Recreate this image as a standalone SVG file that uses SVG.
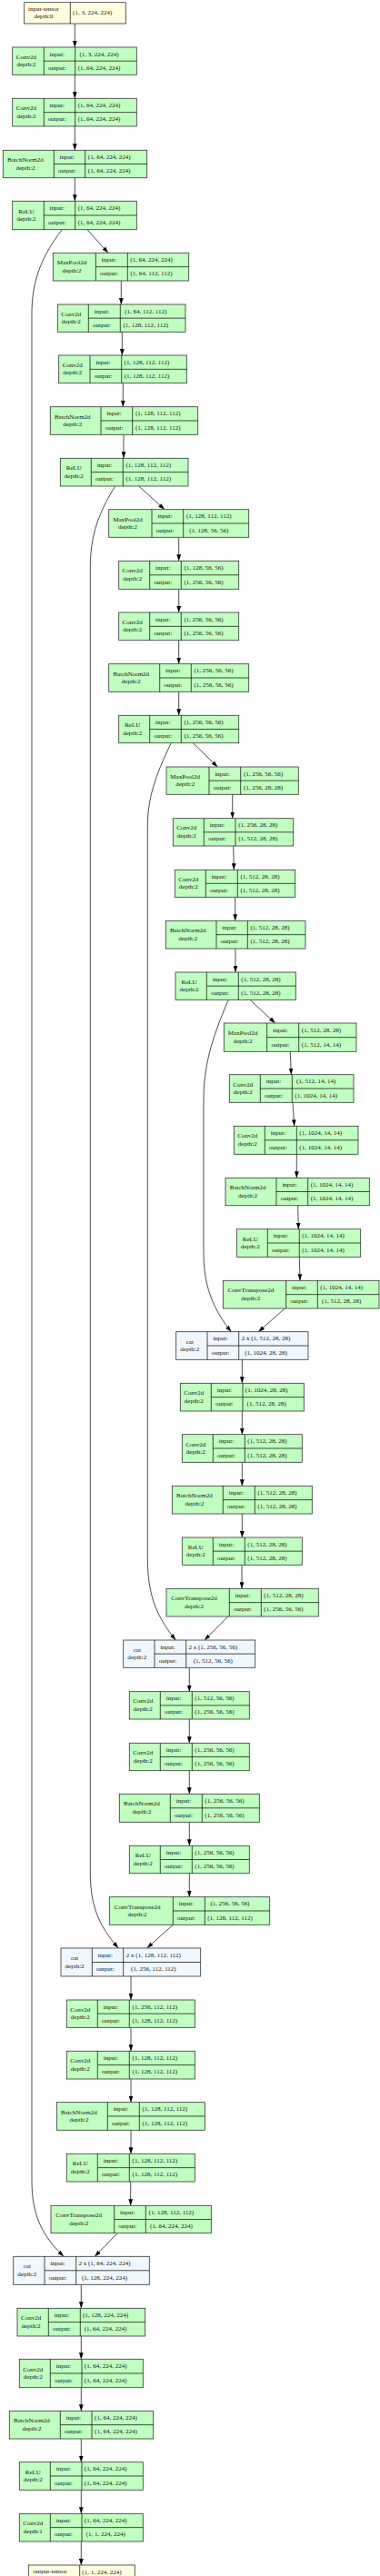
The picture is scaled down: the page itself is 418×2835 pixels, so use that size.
<svg xmlns="http://www.w3.org/2000/svg" width="418" height="2835" viewBox="0 0 418 2835">
<style>
.g{fill:#c1ffc1;stroke:#333;stroke-width:0.8}
.c{fill:#f0f8ff;stroke:#333;stroke-width:0.8}
.y{fill:#ffffe0;stroke:#333;stroke-width:0.8}
.d{fill:none;stroke:#000;stroke-width:0.7}
text{font-family:"Liberation Serif","DejaVu Serif",serif;font-size:7px;text-anchor:middle;dominant-baseline:central;fill:#111}
.e{fill:none;stroke:#000;stroke-width:0.7;marker-end:url(#a)}
</style>
<defs>
<marker id="a" markerUnits="userSpaceOnUse" markerWidth="7" markerHeight="4.8" refX="7" refY="2.4" orient="auto"><path d="M0,0L7,2.4L0,4.8z" fill="#000"/></marker>
</defs>
<rect width="418" height="2835" fill="#fff"/>
<g id="connectors">
<path class="e" d="M82.3,26V52"/>
<path class="e" d="M82.3,82.3V108.3"/>
<path class="e" d="M82.3,139V165.3"/>
<path class="e" d="M82.3,195.7V221.3"/>
<path class="e" d="M96,252.7L119,278.3"/>
<path class="e" d="M68.3,252.7C45,283 35,310 35,345L35,2400C35,2440 48,2462 70,2483.3"/>
<path class="e" d="M133.3,309V335"/>
<path class="e" d="M134.3,365.3V391"/>
<path class="e" d="M135.3,421.7V447.7"/>
<path class="e" d="M136,478.3V504.3"/>
<path class="e" d="M152.7,535L181,560.7"/>
<path class="e" d="M126.7,535C108,565 99.3,590 99.3,625L99.3,2060C99.3,2100 110,2120 130,2144"/>
<path class="e" d="M196.7,591.3V617.3"/>
<path class="e" d="M196.7,648.3V674"/>
<path class="e" d="M196.7,704.7V730.7"/>
<path class="e" d="M196.7,761.3V787.3"/>
<path class="e" d="M212.3,817.7L239.3,844"/>
<path class="e" d="M188.3,817.7C170,855 162.3,880 162.3,910L162.3,1715C162.3,1760 175,1782 193.3,1805"/>
<path class="e" d="M255.7,874.3V900.7"/>
<path class="e" d="M256.7,931L257.3,957.3"/>
<path class="e" d="M258.7,987.3V1013.3"/>
<path class="e" d="M259,1044V1070"/>
<path class="e" d="M275,1100.3L302.7,1126"/>
<path class="e" d="M251.3,1100.3C232,1145 224,1175 224,1210L224,1380C224,1420 238,1445 254.3,1465.7"/>
<path class="e" d="M319.3,1157.3L320.3,1182.7"/>
<path class="e" d="M322,1213.3L323.7,1239.3"/>
<path class="e" d="M326.3,1270.3V1296.3"/>
<path class="e" d="M327.7,1326.7L328.3,1352.7"/>
<path class="e" d="M329.3,1383.3L330,1409.3"/>
<path class="e" d="M313.3,1440L284.3,1465.7"/>
<path class="e" d="M266.3,1496.3V1522.3"/>
<path class="e" d="M266.3,1553V1578.7"/>
<path class="e" d="M266.3,1609.3V1635.3"/>
<path class="e" d="M266.3,1666V1692"/>
<path class="e" d="M266,1722.3V1748.3"/>
<path class="e" d="M250.7,1779L225,1805"/>
<path class="e" d="M208.3,1835.3V1861.7"/>
<path class="e" d="M208.3,1892V1918.3"/>
<path class="e" d="M208.3,1948.7V1974.3"/>
<path class="e" d="M208.3,2005.3V2031.3"/>
<path class="e" d="M208.3,2061.7V2087.7"/>
<path class="e" d="M190.3,2118.3L161.7,2144"/>
<path class="e" d="M144,2175V2201"/>
<path class="e" d="M144,2231.3V2257.3"/>
<path class="e" d="M144,2288V2313.7"/>
<path class="e" d="M144,2344.3V2370.3"/>
<path class="e" d="M143.7,2401V2427.3"/>
<path class="e" d="M129.3,2457.7L104.3,2483.3"/>
<path class="e" d="M89.3,2514.3V2540.3"/>
<path class="e" d="M89.3,2571V2596.3"/>
<path class="e" d="M89.3,2627.7V2653.3"/>
<path class="e" d="M89.3,2684V2709.7"/>
<path class="e" d="M89.3,2740.3V2766.3"/>
<path class="e" d="M89.3,2797V2823"/>
</g>
<g id="n1"><rect class="y" x="26.7" y="2.7" width="111.6" height="23.3"/><path class="d" d="M77.3,2.7V26"/><text x="48" y="9.9">input-tensor</text><text x="48" y="18.2">depth:0</text><text x="101.7" y="14.35">(1, 3, 224, 224)</text></g>
<g id="n2"><rect class="g" x="13.7" y="52" width="136.6" height="30.3"/><path class="d" d="M48.3,52V82.3M82.7,52V82.3M48.3,67.15H150.3"/><text x="28.9" y="62.75">Conv2d</text><text x="28.9" y="71.15">depth:2</text><text x="62.7" y="59.6">input:</text><text x="62.7" y="74.7">output:</text><text x="109.1" y="59.6">(1, 3, 224, 224)</text><text x="109.1" y="74.7">(1, 64, 224, 224)</text></g>
<g id="n3"><rect class="g" x="13.7" y="108.3" width="136.6" height="30.7"/><path class="d" d="M48.3,108.3V139M82.7,108.3V139M48.3,123.65H150.3"/><text x="28.9" y="119.25">Conv2d</text><text x="28.9" y="127.65">depth:2</text><text x="62.7" y="116">input:</text><text x="62.7" y="131.3">output:</text><text x="109.1" y="116">(1, 64, 224, 224)</text><text x="109.1" y="131.3">(1, 64, 224, 224)</text></g>
<g id="n4"><rect class="g" x="3.3" y="165.3" width="158.4" height="30.4"/><path class="d" d="M59.3,165.3V195.7M93.7,165.3V195.7M59.3,180.5H161.7"/><text x="27.9" y="176.1">BatchNorm2d</text><text x="27.9" y="184.5">depth:2</text><text x="73.7" y="172.9">input:</text><text x="73.7" y="188.1">output:</text><text x="120.2" y="172.9">(1, 64, 224, 224)</text><text x="120.2" y="188.1">(1, 64, 224, 224)</text></g>
<g id="n5"><rect class="g" x="13.7" y="221.3" width="136.6" height="31.4"/><path class="d" d="M48.3,221.3V252.7M82.7,221.3V252.7M48.3,237H150.3"/><text x="28.9" y="232.6">ReLU</text><text x="28.9" y="241">depth:2</text><text x="62.7" y="229.15">input:</text><text x="62.7" y="244.85">output:</text><text x="109.1" y="229.15">(1, 64, 224, 224)</text><text x="109.1" y="244.85">(1, 64, 224, 224)</text></g>
<g id="n6"><rect class="g" x="58.3" y="278.3" width="149.4" height="30.7"/><path class="d" d="M105.3,278.3V309M140.3,278.3V309M105.3,293.65H207.7"/><text x="79" y="289.25">MaxPool2d</text><text x="79" y="297.65">depth:2</text><text x="120" y="286">input:</text><text x="120" y="301.3">output:</text><text x="166.6" y="286">(1, 64, 224, 224)</text><text x="166.6" y="301.3">(1, 64, 112, 112)</text></g>
<g id="n7"><rect class="g" x="63.3" y="335" width="140.7" height="30.3"/><path class="d" d="M97.3,335V365.3M132.3,335V365.3M97.3,350.15H204"/><text x="78.3" y="345.75">Conv2d</text><text x="78.3" y="354.15">depth:2</text><text x="112" y="342.6">input:</text><text x="112" y="357.7">output:</text><text x="160.3" y="342.6">(1, 64, 112, 112)</text><text x="160.3" y="357.7">(1, 128, 112, 112)</text></g>
<g id="n8"><rect class="g" x="64.7" y="391" width="140.6" height="30.7"/><path class="d" d="M99,391V421.7M133.7,391V421.7M99,406.35H205.3"/><text x="79.8" y="401.95">Conv2d</text><text x="79.8" y="410.35">depth:2</text><text x="113.6" y="398.7">input:</text><text x="113.6" y="414">output:</text><text x="161.6" y="398.7">(1, 128, 112, 112)</text><text x="161.6" y="414">(1, 128, 112, 112)</text></g>
<g id="n9"><rect class="g" x="55.3" y="447.7" width="162.4" height="30.6"/><path class="d" d="M111,447.7V478.3M145.7,447.7V478.3M111,463H217.7"/><text x="79.8" y="458.6">BatchNorm2d</text><text x="79.8" y="467">depth:2</text><text x="125.6" y="455.35">input:</text><text x="125.6" y="470.65">output:</text><text x="173.8" y="455.35">(1, 128, 112, 112)</text><text x="173.8" y="470.65">(1, 128, 112, 112)</text></g>
<g id="n10"><rect class="g" x="66.3" y="504.3" width="140.7" height="30.7"/><path class="d" d="M100.3,504.3V535M135.3,504.3V535M100.3,519.65H207"/><text x="81.3" y="515.25">ReLU</text><text x="81.3" y="523.65">depth:2</text><text x="115" y="512">input:</text><text x="115" y="527.3">output:</text><text x="163.3" y="512">(1, 128, 112, 112)</text><text x="163.3" y="527.3">(1, 128, 112, 112)</text></g>
<g id="n11"><rect class="g" x="119.7" y="560.7" width="154" height="30.6"/><path class="d" d="M167,560.7V591.3M201.7,560.7V591.3M167,576H273.7"/><text x="140.5" y="571.6">MaxPool2d</text><text x="140.5" y="580">depth:2</text><text x="181.6" y="568.35">input:</text><text x="181.6" y="583.65">output:</text><text x="229.8" y="568.35">(1, 128, 112, 112)</text><text x="229.8" y="583.65">(1, 128, 56, 56)</text></g>
<g id="n12"><rect class="g" x="130.7" y="617.3" width="132" height="31"/><path class="d" d="M164.7,617.3V648.3M199.3,617.3V648.3M164.7,632.8H262.7"/><text x="145.7" y="628.4">Conv2d</text><text x="145.7" y="636.8">depth:2</text><text x="179.2" y="625.05">input:</text><text x="179.2" y="640.55">output:</text><text x="224" y="625.05">(1, 128, 56, 56)</text><text x="224" y="640.55">(1, 256, 56, 56)</text></g>
<g id="n13"><rect class="g" x="130.7" y="674" width="132" height="30.7"/><path class="d" d="M164.7,674V704.7M199.3,674V704.7M164.7,689.35H262.7"/><text x="145.7" y="684.95">Conv2d</text><text x="145.7" y="693.35">depth:2</text><text x="179.2" y="681.7">input:</text><text x="179.2" y="697">output:</text><text x="224" y="681.7">(1, 256, 56, 56)</text><text x="224" y="697">(1, 256, 56, 56)</text></g>
<g id="n14"><rect class="g" x="119.7" y="730.7" width="154" height="30.6"/><path class="d" d="M175.7,730.7V761.3M210.3,730.7V761.3M175.7,746H273.7"/><text x="144.3" y="741.6">BatchNorm2d</text><text x="144.3" y="750">depth:2</text><text x="190.2" y="738.35">input:</text><text x="190.2" y="753.65">output:</text><text x="235" y="738.35">(1, 256, 56, 56)</text><text x="235" y="753.65">(1, 256, 56, 56)</text></g>
<g id="n15"><rect class="g" x="130.7" y="787.3" width="132" height="30.4"/><path class="d" d="M164.7,787.3V817.7M199.3,787.3V817.7M164.7,802.5H262.7"/><text x="145.7" y="798.1">ReLU</text><text x="145.7" y="806.5">depth:2</text><text x="179.2" y="794.9">input:</text><text x="179.2" y="810.1">output:</text><text x="224" y="794.9">(1, 256, 56, 56)</text><text x="224" y="810.1">(1, 256, 56, 56)</text></g>
<g id="n16"><rect class="g" x="183" y="844" width="145.3" height="30.3"/><path class="d" d="M230,844V874.3M264.7,844V874.3M230,859.15H328.3"/><text x="203.7" y="854.75">MaxPool2d</text><text x="203.7" y="863.15">depth:2</text><text x="244.6" y="851.6">input:</text><text x="244.6" y="866.7">output:</text><text x="289.5" y="851.6">(1, 256, 56, 56)</text><text x="289.5" y="866.7">(1, 256, 28, 28)</text></g>
<g id="n17"><rect class="g" x="190.3" y="900.7" width="132.4" height="30.3"/><path class="d" d="M224.3,900.7V931M259,900.7V931M224.3,915.85H322.7"/><text x="205.3" y="911.45">Conv2d</text><text x="205.3" y="919.85">depth:2</text><text x="238.9" y="908.3">input:</text><text x="238.9" y="923.4">output:</text><text x="283.8" y="908.3">(1, 256, 28, 28)</text><text x="283.8" y="923.4">(1, 512, 28, 28)</text></g>
<g id="n18"><rect class="g" x="192.3" y="957.3" width="132.4" height="30"/><path class="d" d="M226.3,957.3V987.3M261.3,957.3V987.3M226.3,972.3H324.7"/><text x="207.3" y="967.9">Conv2d</text><text x="207.3" y="976.3">depth:2</text><text x="241" y="964.8">input:</text><text x="241" y="979.8">output:</text><text x="286" y="964.8">(1, 512, 28, 28)</text><text x="286" y="979.8">(1, 512, 28, 28)</text></g>
<g id="n19"><rect class="g" x="182.3" y="1013.3" width="153.7" height="30.7"/><path class="d" d="M238,1013.3V1044M272.3,1013.3V1044M238,1028.65H336"/><text x="206.8" y="1024.25">BatchNorm2d</text><text x="206.8" y="1032.65">depth:2</text><text x="252.4" y="1021">input:</text><text x="252.4" y="1036.3">output:</text><text x="297.1" y="1021">(1, 512, 28, 28)</text><text x="297.1" y="1036.3">(1, 512, 28, 28)</text></g>
<g id="n20"><rect class="g" x="193" y="1070" width="132.3" height="30.3"/><path class="d" d="M227.3,1070V1100.3M262.3,1070V1100.3M227.3,1085.15H325.3"/><text x="208.1" y="1080.75">ReLU</text><text x="208.1" y="1089.15">depth:2</text><text x="242" y="1077.6">input:</text><text x="242" y="1092.7">output:</text><text x="286.9" y="1077.6">(1, 512, 28, 28)</text><text x="286.9" y="1092.7">(1, 512, 28, 28)</text></g>
<g id="n21"><rect class="g" x="246.3" y="1126" width="145.7" height="31.3"/><path class="d" d="M293.7,1126V1157.3M328.7,1126V1157.3M293.7,1141.65H392"/><text x="267.2" y="1137.25">MaxPool2d</text><text x="267.2" y="1145.65">depth:2</text><text x="308.4" y="1133.8">input:</text><text x="308.4" y="1149.5">output:</text><text x="353.4" y="1133.8">(1, 512, 28, 28)</text><text x="353.4" y="1149.5">(1, 512, 14, 14)</text></g>
<g id="n22"><rect class="g" x="252.3" y="1182.7" width="136.7" height="30.6"/><path class="d" d="M286.3,1182.7V1213.3M321.3,1182.7V1213.3M286.3,1198H389"/><text x="267.3" y="1193.6">Conv2d</text><text x="267.3" y="1202">depth:2</text><text x="301" y="1190.35">input:</text><text x="301" y="1205.65">output:</text><text x="347.7" y="1190.35">(1, 512, 14, 14)</text><text x="347.7" y="1205.65">(1, 1024, 14, 14)</text></g>
<g id="n23"><rect class="g" x="257.3" y="1239.3" width="136.7" height="31"/><path class="d" d="M291.3,1239.3V1270.3M326.3,1239.3V1270.3M291.3,1254.8H394"/><text x="272.3" y="1250.4">Conv2d</text><text x="272.3" y="1258.8">depth:2</text><text x="306" y="1247.05">input:</text><text x="306" y="1262.55">output:</text><text x="352.7" y="1247.05">(1, 1024, 14, 14)</text><text x="352.7" y="1262.55">(1, 1024, 14, 14)</text></g>
<g id="n24"><rect class="g" x="248" y="1296.3" width="158.3" height="30.4"/><path class="d" d="M304,1296.3V1326.7M338.7,1296.3V1326.7M304,1311.5H406.3"/><text x="272.6" y="1307.1">BatchNorm2d</text><text x="272.6" y="1315.5">depth:2</text><text x="318.6" y="1303.9">input:</text><text x="318.6" y="1319.1">output:</text><text x="365.1" y="1303.9">(1, 1024, 14, 14)</text><text x="365.1" y="1319.1">(1, 1024, 14, 14)</text></g>
<g id="n25"><rect class="g" x="260.3" y="1352.7" width="136.4" height="30.6"/><path class="d" d="M294.3,1352.7V1383.3M329.3,1352.7V1383.3M294.3,1368H396.7"/><text x="275.3" y="1363.6">ReLU</text><text x="275.3" y="1372">depth:2</text><text x="309" y="1360.35">input:</text><text x="309" y="1375.65">output:</text><text x="355.6" y="1360.35">(1, 1024, 14, 14)</text><text x="355.6" y="1375.65">(1, 1024, 14, 14)</text></g>
<g id="n26"><rect class="g" x="245.3" y="1409.3" width="171.7" height="30.7"/><path class="d" d="M314.7,1409.3V1440M349.3,1409.3V1440M314.7,1424.65H417"/><text x="275.8" y="1420.25">ConvTranspose2d</text><text x="275.8" y="1428.65">depth:2</text><text x="329.2" y="1417">input:</text><text x="329.2" y="1432.3">output:</text><text x="375.7" y="1417">(1, 1024, 14, 14)</text><text x="375.7" y="1432.3">(1, 512, 28, 28)</text></g>
<g id="n27"><rect class="c" x="193.7" y="1465.7" width="145.3" height="30.6"/><path class="d" d="M228,1465.7V1496.3M262.7,1465.7V1496.3M228,1481H339"/><text x="208.8" y="1476.6">cat</text><text x="208.8" y="1485">depth:2</text><text x="242.6" y="1473.35">input:</text><text x="242.6" y="1488.65">output:</text><text x="292.5" y="1473.35">2 x (1, 512, 28, 28)</text><text x="292.5" y="1488.65">(1, 1024, 28, 28)</text></g>
<g id="n28"><rect class="g" x="198.3" y="1522.3" width="136" height="30.7"/><path class="d" d="M232.3,1522.3V1553M267,1522.3V1553M232.3,1537.65H334.3"/><text x="213.3" y="1533.25">Conv2d</text><text x="213.3" y="1541.65">depth:2</text><text x="246.9" y="1530">input:</text><text x="246.9" y="1545.3">output:</text><text x="293.2" y="1530">(1, 1024, 28, 28)</text><text x="293.2" y="1545.3">(1, 512, 28, 28)</text></g>
<g id="n29"><rect class="g" x="200.3" y="1578.7" width="132" height="30.6"/><path class="d" d="M234.3,1578.7V1609.3M269.3,1578.7V1609.3M234.3,1594H332.3"/><text x="215.3" y="1589.6">Conv2d</text><text x="215.3" y="1598">depth:2</text><text x="249" y="1586.35">input:</text><text x="249" y="1601.65">output:</text><text x="293.9" y="1586.35">(1, 512, 28, 28)</text><text x="293.9" y="1601.65">(1, 512, 28, 28)</text></g>
<g id="n30"><rect class="g" x="189.3" y="1635.3" width="154" height="30.7"/><path class="d" d="M245.3,1635.3V1666M280.3,1635.3V1666M245.3,1650.65H343.3"/><text x="213.9" y="1646.25">BatchNorm2d</text><text x="213.9" y="1654.65">depth:2</text><text x="260" y="1643">input:</text><text x="260" y="1658.3">output:</text><text x="304.9" y="1643">(1, 512, 28, 28)</text><text x="304.9" y="1658.3">(1, 512, 28, 28)</text></g>
<g id="n31"><rect class="g" x="200.3" y="1692" width="132" height="30.3"/><path class="d" d="M234.3,1692V1722.3M269.3,1692V1722.3M234.3,1707.15H332.3"/><text x="215.3" y="1702.75">ReLU</text><text x="215.3" y="1711.15">depth:2</text><text x="249" y="1699.6">input:</text><text x="249" y="1714.7">output:</text><text x="293.9" y="1699.6">(1, 512, 28, 28)</text><text x="293.9" y="1714.7">(1, 512, 28, 28)</text></g>
<g id="n32"><rect class="g" x="183" y="1748.3" width="167.3" height="30.7"/><path class="d" d="M252.3,1748.3V1779M287.3,1748.3V1779M252.3,1763.65H350.3"/><text x="213.5" y="1759.25">ConvTranspose2d</text><text x="213.5" y="1767.65">depth:2</text><text x="267" y="1756">input:</text><text x="267" y="1771.3">output:</text><text x="311.9" y="1756">(1, 512, 28, 28)</text><text x="311.9" y="1771.3">(1, 256, 56, 56)</text></g>
<g id="n33"><rect class="c" x="135.7" y="1805" width="145" height="30.3"/><path class="d" d="M170,1805V1835.3M204.7,1805V1835.3M170,1820.15H280.7"/><text x="150.8" y="1815.75">cat</text><text x="150.8" y="1824.15">depth:2</text><text x="184.6" y="1812.6">input:</text><text x="184.6" y="1827.7">output:</text><text x="234.3" y="1812.6">2 x (1, 256, 56, 56)</text><text x="234.3" y="1827.7">(1, 512, 56, 56)</text></g>
<g id="n34"><rect class="g" x="142.3" y="1861.7" width="132" height="30.3"/><path class="d" d="M176.3,1861.7V1892M211.3,1861.7V1892M176.3,1876.85H274.3"/><text x="157.3" y="1872.45">Conv2d</text><text x="157.3" y="1880.85">depth:2</text><text x="191" y="1869.3">input:</text><text x="191" y="1884.4">output:</text><text x="235.9" y="1869.3">(1, 512, 56, 56)</text><text x="235.9" y="1884.4">(1, 256, 56, 56)</text></g>
<g id="n35"><rect class="g" x="142.3" y="1918.3" width="132" height="30.4"/><path class="d" d="M176.3,1918.3V1948.7M211.3,1918.3V1948.7M176.3,1933.5H274.3"/><text x="157.3" y="1929.1">Conv2d</text><text x="157.3" y="1937.5">depth:2</text><text x="191" y="1925.9">input:</text><text x="191" y="1941.1">output:</text><text x="235.9" y="1925.9">(1, 256, 56, 56)</text><text x="235.9" y="1941.1">(1, 256, 56, 56)</text></g>
<g id="n36"><rect class="g" x="131.3" y="1974.3" width="154" height="31"/><path class="d" d="M187.3,1974.3V2005.3M222.3,1974.3V2005.3M187.3,1989.8H285.3"/><text x="155.9" y="1985.4">BatchNorm2d</text><text x="155.9" y="1993.8">depth:2</text><text x="202" y="1982.05">input:</text><text x="202" y="1997.55">output:</text><text x="246.9" y="1982.05">(1, 256, 56, 56)</text><text x="246.9" y="1997.55">(1, 256, 56, 56)</text></g>
<g id="n37"><rect class="g" x="142.3" y="2031.3" width="132" height="30.4"/><path class="d" d="M176.3,2031.3V2061.7M211.3,2031.3V2061.7M176.3,2046.5H274.3"/><text x="157.3" y="2042.1">ReLU</text><text x="157.3" y="2050.5">depth:2</text><text x="191" y="2038.9">input:</text><text x="191" y="2054.1">output:</text><text x="235.9" y="2038.9">(1, 256, 56, 56)</text><text x="235.9" y="2054.1">(1, 256, 56, 56)</text></g>
<g id="n38"><rect class="g" x="120.3" y="2087.7" width="176.4" height="30.6"/><path class="d" d="M190.3,2087.7V2118.3M225.3,2087.7V2118.3M190.3,2103H296.7"/><text x="151.1" y="2098.6">ConvTranspose2d</text><text x="151.1" y="2107">depth:2</text><text x="205" y="2095.35">input:</text><text x="205" y="2110.65">output:</text><text x="253.1" y="2095.35">(1, 256, 56, 56)</text><text x="253.1" y="2110.65">(1, 128, 112, 112)</text></g>
<g id="n39"><rect class="c" x="67" y="2144" width="153.7" height="31"/><path class="d" d="M101.3,2144V2175M135.7,2144V2175M101.3,2159.5H220.7"/><text x="82.1" y="2155.1">cat</text><text x="82.1" y="2163.5">depth:2</text><text x="115.7" y="2151.75">input:</text><text x="115.7" y="2167.25">output:</text><text x="168.9" y="2151.75">2 x (1, 128, 112, 112)</text><text x="168.9" y="2167.25">(1, 256, 112, 112)</text></g>
<g id="n40"><rect class="g" x="73.3" y="2201" width="141" height="30.3"/><path class="d" d="M107.3,2201V2231.3M142.3,2201V2231.3M107.3,2216.15H214.3"/><text x="88.3" y="2211.75">Conv2d</text><text x="88.3" y="2220.15">depth:2</text><text x="122" y="2208.6">input:</text><text x="122" y="2223.7">output:</text><text x="170.4" y="2208.6">(1, 256, 112, 112)</text><text x="170.4" y="2223.7">(1, 128, 112, 112)</text></g>
<g id="n41"><rect class="g" x="73.3" y="2257.3" width="141" height="30.7"/><path class="d" d="M107.3,2257.3V2288M142.3,2257.3V2288M107.3,2272.65H214.3"/><text x="88.3" y="2268.25">Conv2d</text><text x="88.3" y="2276.65">depth:2</text><text x="122" y="2265">input:</text><text x="122" y="2280.3">output:</text><text x="170.4" y="2265">(1, 128, 112, 112)</text><text x="170.4" y="2280.3">(1, 128, 112, 112)</text></g>
<g id="n42"><rect class="g" x="62.3" y="2313.7" width="163" height="30.6"/><path class="d" d="M118.3,2313.7V2344.3M153.3,2313.7V2344.3M118.3,2329H225.3"/><text x="86.9" y="2324.6">BatchNorm2d</text><text x="86.9" y="2333">depth:2</text><text x="133" y="2321.35">input:</text><text x="133" y="2336.65">output:</text><text x="181.4" y="2321.35">(1, 128, 112, 112)</text><text x="181.4" y="2336.65">(1, 128, 112, 112)</text></g>
<g id="n43"><rect class="g" x="73.3" y="2370.3" width="141" height="30.7"/><path class="d" d="M107.3,2370.3V2401M142.3,2370.3V2401M107.3,2385.65H214.3"/><text x="88.3" y="2381.25">ReLU</text><text x="88.3" y="2389.65">depth:2</text><text x="122" y="2378">input:</text><text x="122" y="2393.3">output:</text><text x="170.4" y="2378">(1, 128, 112, 112)</text><text x="170.4" y="2393.3">(1, 128, 112, 112)</text></g>
<g id="n44"><rect class="g" x="56" y="2427.3" width="176.3" height="30.4"/><path class="d" d="M125.7,2427.3V2457.7M160.3,2427.3V2457.7M125.7,2442.5H232.3"/><text x="86.7" y="2438.1">ConvTranspose2d</text><text x="86.7" y="2446.5">depth:2</text><text x="140.2" y="2434.9">input:</text><text x="140.2" y="2450.1">output:</text><text x="188.4" y="2434.9">(1, 128, 112, 112)</text><text x="188.4" y="2450.1">(1, 64, 224, 224)</text></g>
<g id="n45"><rect class="c" x="14.7" y="2483.3" width="149.6" height="31"/><path class="d" d="M49,2483.3V2514.3M83.7,2483.3V2514.3M49,2498.8H164.3"/><text x="29.8" y="2494.4">cat</text><text x="29.8" y="2502.8">depth:2</text><text x="63.6" y="2491.05">input:</text><text x="63.6" y="2506.55">output:</text><text x="115.1" y="2491.05">2 x (1, 64, 224, 224)</text><text x="115.1" y="2506.55">(1, 128, 224, 224)</text></g>
<g id="n46"><rect class="g" x="19" y="2540.3" width="140.7" height="30.7"/><path class="d" d="M53.3,2540.3V2571M88.3,2540.3V2571M53.3,2555.65H159.7"/><text x="34.1" y="2551.25">Conv2d</text><text x="34.1" y="2559.65">depth:2</text><text x="68" y="2548">input:</text><text x="68" y="2563.3">output:</text><text x="116.1" y="2548">(1, 128, 224, 224)</text><text x="116.1" y="2563.3">(1, 64, 224, 224)</text></g>
<g id="n47"><rect class="g" x="21.3" y="2596.3" width="136" height="31.4"/><path class="d" d="M55.3,2596.3V2627.7M90,2596.3V2627.7M55.3,2612H157.3"/><text x="36.3" y="2607.6">Conv2d</text><text x="36.3" y="2616">depth:2</text><text x="69.9" y="2604.15">input:</text><text x="69.9" y="2619.85">output:</text><text x="116.2" y="2604.15">(1, 64, 224, 224)</text><text x="116.2" y="2619.85">(1, 64, 224, 224)</text></g>
<g id="n48"><rect class="g" x="10.3" y="2653.3" width="158.4" height="30.7"/><path class="d" d="M66.3,2653.3V2684M101,2653.3V2684M66.3,2668.65H168.7"/><text x="34.9" y="2664.25">BatchNorm2d</text><text x="34.9" y="2672.65">depth:2</text><text x="80.9" y="2661">input:</text><text x="80.9" y="2676.3">output:</text><text x="127.4" y="2661">(1, 64, 224, 224)</text><text x="127.4" y="2676.3">(1, 64, 224, 224)</text></g>
<g id="n49"><rect class="g" x="21.3" y="2709.7" width="136" height="30.6"/><path class="d" d="M55.3,2709.7V2740.3M90,2709.7V2740.3M55.3,2725H157.3"/><text x="36.3" y="2720.6">ReLU</text><text x="36.3" y="2729">depth:2</text><text x="69.9" y="2717.35">input:</text><text x="69.9" y="2732.65">output:</text><text x="116.2" y="2717.35">(1, 64, 224, 224)</text><text x="116.2" y="2732.65">(1, 64, 224, 224)</text></g>
<g id="n50"><rect class="g" x="21.3" y="2766.3" width="136" height="30.7"/><path class="d" d="M55.3,2766.3V2797M90,2766.3V2797M55.3,2781.65H157.3"/><text x="36.3" y="2777.25">Conv2d</text><text x="36.3" y="2785.65">depth:1</text><text x="69.9" y="2774">input:</text><text x="69.9" y="2789.3">output:</text><text x="116.2" y="2774">(1, 64, 224, 224)</text><text x="116.2" y="2789.3">(1, 1, 224, 224)</text></g>
<g id="n51"><rect class="y" x="31.3" y="2823" width="117" height="23.3"/><path class="d" d="M87.7,2823V2846.3"/><text x="55" y="2829.8">output-tensor</text><text x="111.9" y="2831.4">(1, 1, 224, 224)</text></g>
</svg>
